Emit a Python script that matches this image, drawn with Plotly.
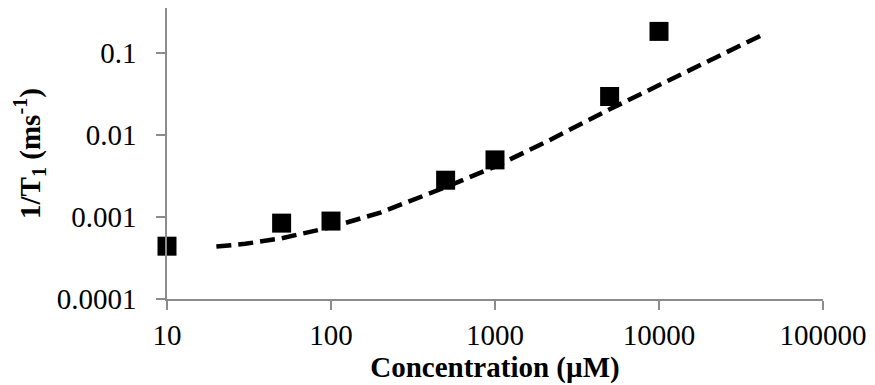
import plotly.graph_objects as go

# Measured data
conc = [10, 50, 100, 500, 1000, 5000, 10000]
rate = [4.4e-4, 8.4e-4, 8.9e-4, 2.8e-3, 4.95e-3, 0.0293, 0.182]

# Dashed fit curve
fit_x = [20, 30, 50, 100, 200, 500, 1000, 2000, 5000, 10000, 20000, 45000]
fit_y = [4.35e-4, 4.7e-4, 5.5e-4, 7.5e-4, 1.13e-3, 2.3e-3, 4.1e-3, 8.0e-3, 0.0205, 0.040, 0.078, 0.174]

x_ticks = [10, 100, 1000, 10000, 100000]
x_ticktext = ["10", "100", "1000", "10000", "100000"]
y_ticks = [0.0001, 0.001, 0.01, 0.1]
y_ticktext = ["0.0001", "0.001", "0.01", "0.1"]

FONT = "Liberation Serif, Times New Roman, serif"
AX = "#8c8c8c"

fig = go.Figure()
fig.add_trace(go.Scatter(
    x=fit_x, y=fit_y, mode="lines",
    line=dict(color="black", width=4.5, dash="15px,7px"),
    hoverinfo="skip", showlegend=False))
fig.add_trace(go.Scatter(
    x=conc, y=rate, mode="markers",
    marker=dict(symbol="square", size=19, color="black"),
    showlegend=False, cliponaxis=False))

fig.update_layout(
    width=875, height=385,
    margin=dict(l=167, r=49, t=8, b=86),
    paper_bgcolor="white", plot_bgcolor="white",
    font=dict(family=FONT, size=29, color="black"),
)
fig.update_xaxes(
    type="log", range=[1, 5],
    tickvals=x_ticks, ticktext=x_ticktext,
    showgrid=False, zeroline=False,
    showline=True, linecolor=AX, linewidth=1.5,
    ticks="outside", ticklen=9, tickcolor=AX, tickwidth=1.5,
    tickfont=dict(family=FONT, size=29),
    title=dict(text="<b>Concentration (µM)</b>", font=dict(family=FONT, size=29), standoff=0),
)
fig.update_yaxes(
    type="log", range=[-4, -0.455],
    tickvals=y_ticks, ticktext=y_ticktext,
    showgrid=False, zeroline=False,
    showline=True, linecolor=AX, linewidth=1.5,
    ticks="outside", ticklen=9, tickcolor=AX, tickwidth=1.5,
    tickfont=dict(family=FONT, size=29),
    ticklabelstandoff=14,
    title=dict(text="<b>1/T<sub>1</sub> (ms<sup>-1</sup>)</b>", font=dict(family=FONT, size=29), standoff=8),
)

fig.write_html("out.html")
